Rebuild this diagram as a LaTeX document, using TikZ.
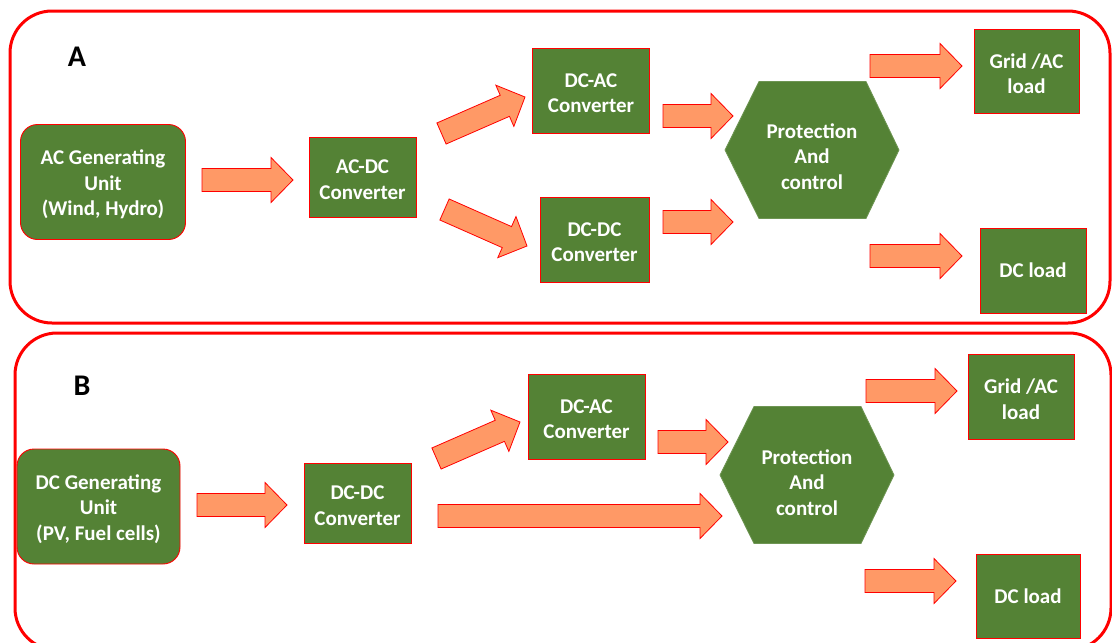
\documentclass[tikz,border=0pt]{standalone}
\usepackage{fontspec}
\setmainfont{Carlito}
\usetikzlibrary{calc}

\definecolor{boxgreen}{HTML}{548235}
\definecolor{arrowfill}{HTML}{FF9966}
\definecolor{edgered}{HTML}{FF0000}

\tikzset{
  panel/.style={draw=edgered, line width=3pt, rounded corners=42pt},
  lettering/.style={text=white, font=\bfseries\fontsize{21}{25.5}\selectfont,
    align=center, inner sep=0pt},
  boxtext/.style={lettering, yshift=-2.5pt},
  unit/.style={fill=boxgreen, draw=edgered, line width=0.9pt, inner sep=0pt},
  genbox/.style={unit, rounded corners=17pt},
  hexbody/.style={fill=boxgreen, draw=boxgreen!85!white, line width=0.8pt},
  fatarrowstyle/.style={fill=arrowfill, draw=edgered, line width=0.8pt, line join=miter},
  tag/.style={font=\bfseries\fontsize{30}{36}\selectfont, text=black, inner sep=0pt}
}

% block arrow from tail coordinate #1 to tip coordinate #2
\newcommand\fatarrow[2]{%
  \coordinate (fa-q) at ($(#2)!22pt!(#1)$);
  \draw[fatarrowstyle]
    ($(#1)!11.5pt!90:(#2)$) -- ($(fa-q)!11.5pt!90:(#2)$) --
    ($(fa-q)!22.5pt!90:(#2)$) -- (#2) --
    ($(fa-q)!22.5pt!-90:(#2)$) -- ($(fa-q)!11.5pt!-90:(#2)$) --
    ($(#1)!11.5pt!-90:(#2)$) -- cycle;
}

% hexagon (174 x 137) around coordinate #1
\newcommand\hexblock[1]{%
  \draw[hexbody] ($(#1)+(-87,0)$) -- ($(#1)+(-53,-68.5)$) -- ($(#1)+(54,-68.5)$)
    -- ($(#1)+(87,0)$) -- ($(#1)+(54,68.5)$) -- ($(#1)+(-53,68.5)$) -- cycle;
}

\begin{document}
\begin{tikzpicture}[x=1pt, y=-1pt]
\useasboundingbox (0,0) rectangle (1112,643);

% ---------- panel A : AC source ----------
\draw[panel] (10,11) rectangle (1110,323);
\node[tag] (tagA) at (77,57) {A};

\node[genbox, minimum width=165pt, minimum height=115pt,
  label={[boxtext]center:{AC Generating\\Unit\\(Wind, Hydro)}}] (acgen) at (103,182) {};
\node[unit, minimum width=107pt, minimum height=80pt,
  label={[boxtext]center:{AC-DC\\Converter}}] (acdc) at (362.5,177) {};
\node[unit, minimum width=117pt, minimum height=85pt,
  label={[boxtext]center:{DC-AC\\Converter}}] (dcacA) at (591,90.5) {};
\node[unit, minimum width=109pt, minimum height=85pt,
  label={[boxtext]center:{DC-DC\\Converter}}] (dcdcA) at (594.5,239.5) {};
\coordinate (hexAc) at (812,150);
\hexblock{hexAc}
\node[lettering] (hexA) at ($(hexAc)+(0,6.5)$) {Protection\\And\\control};
\node[unit, minimum width=105pt, minimum height=84pt,
  label={[boxtext]center:{Grid /AC\\load}}] (gridA) at (1026.5,71) {};
\node[unit, minimum width=106pt, minimum height=85pt,
  label={[lettering]center:DC load}] (dcloadA) at (1033,270.5) {};

\coordinate (a1t) at (202,180);   \coordinate (a1h) at (293,180);
\coordinate (a2t) at (441.5,133.5); \coordinate (a2h) at (525,97);
\coordinate (a3t) at (444.5,209.5); \coordinate (a3h) at (527,246);
\coordinate (a4t) at (663,116);   \coordinate (a4h) at (733,116);
\coordinate (a5t) at (663,222);   \coordinate (a5h) at (733,222);
\coordinate (a6t) at (870,66);    \coordinate (a6h) at (962,66);
\coordinate (a7t) at (870,256);   \coordinate (a7h) at (962,256);
\fatarrow{a1t}{a1h}
\fatarrow{a2t}{a2h}
\fatarrow{a3t}{a3h}
\fatarrow{a4t}{a4h}
\fatarrow{a5t}{a5h}
\fatarrow{a6t}{a6h}
\fatarrow{a7t}{a7h}

% ---------- panel B : DC source ----------
\draw[panel] (15,333) rectangle (1111,650);
\node[tag] (tagB) at (82,386) {B};

\node[genbox, minimum width=163pt, minimum height=115pt,
  label={[boxtext]center:{DC Generating\\Unit\\(PV, Fuel cells)}}] (dcgen) at (98.5,506.5) {};
\node[unit, minimum width=107pt, minimum height=80pt,
  label={[boxtext]center:{DC-DC\\Converter}}] (dcdcB) at (357.5,503) {};
\node[unit, minimum width=117pt, minimum height=85pt,
  label={[boxtext]center:{DC-AC\\Converter}}] (dcacB) at (586.5,416.5) {};
\coordinate (hexBc) at (807,475);
\hexblock{hexBc}
\node[lettering] (hexB) at ($(hexBc)+(0,7.5)$) {Protection\\And\\control};
\node[unit, minimum width=106pt, minimum height=85pt,
  label={[boxtext]center:{Grid /AC\\load}}] (gridB) at (1021,396.5) {};
\node[unit, minimum width=104pt, minimum height=84pt,
  label={[lettering]center:DC load}] (dcloadB) at (1028,596) {};

\coordinate (b1t) at (197,505);   \coordinate (b1h) at (287,505);
\coordinate (b2t) at (436.5,458.5); \coordinate (b2h) at (520,422);
\coordinate (b3t) at (438,516);   \coordinate (b3h) at (722,516);
\coordinate (b4t) at (658,442);   \coordinate (b4h) at (728,442);
\coordinate (b5t) at (866,391);   \coordinate (b5h) at (957,391);
\coordinate (b6t) at (865,581);   \coordinate (b6h) at (956,581);
\fatarrow{b1t}{b1h}
\fatarrow{b2t}{b2h}
\fatarrow{b3t}{b3h}
\fatarrow{b4t}{b4h}
\fatarrow{b5t}{b5h}
\fatarrow{b6t}{b6h}
\end{tikzpicture}
\end{document}
